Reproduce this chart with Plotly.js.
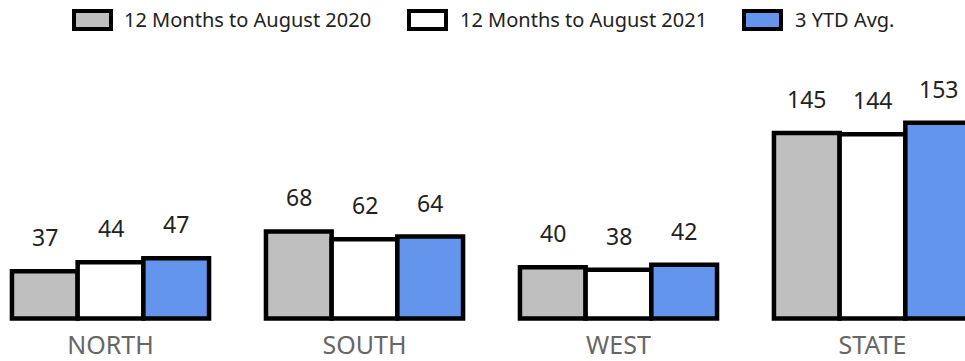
<!DOCTYPE html>
<html>
<head>
<meta charset="utf-8">
<script src="https://cdn.plot.ly/plotly-3.0.1.min.js"></script>
<style>html,body{margin:0;padding:0;background:#fff;}#chart{width:965px;height:361px;}</style>
</head>
<body>
<div id="chart"></div>
<script>
const categories = ["NORTH", "SOUTH", "WEST", "STATE"];
const seriesNames = ["12 Months to August 2020", "12 Months to August 2021", "3 YTD Avg."];
const values2020 = [37, 68, 40, 145];
const values2021 = [44, 62, 38, 144];
const valuesAvg = [47, 64, 42, 153];
const seriesColors = ["#BFBFBF", "#FFFFFF", "#6495ED"];

const W = 965, H = 361;
const mL = 0, mR = 0, mT = 60, mB = 39;
const plotBottom = H - mB;
const plotH = H - mT - mB;
const zeroPx = 318.5, pxPerUnit = 1.28;
const bargap = 0.224;
const catPx = 254;
const firstCenterPx = 110.5;
const barPx = catPx * (1 - bargap) / 3;

const allSeries = [values2020, values2021, valuesAvg];
const font = "Noto Sans, Open Sans, sans-serif";

const traces = allSeries.map((vals, i) => ({
  type: "bar",
  name: seriesNames[i],
  x: categories,
  y: vals,
  marker: {color: seriesColors[i], line: {color: "#000", width: 4.5}},
  hoverinfo: "skip",
  showlegend: false
}));

const annotations = [];
allSeries.forEach((vals, i) => {
  vals.forEach((v, j) => {
    annotations.push({
      x: categories[j], y: v, xref: "x", yref: "y",
      text: String(v), showarrow: false,
      xanchor: "center", yanchor: "bottom",
      xshift: (i - 1) * barPx, yshift: 16,
      font: {family: font, size: 23, color: "#222"}
    });
  });
});

// custom legend
const shapes = [];
const legendBoxLeft = [74, 409, 744];
const legendTextLeft = [122, 458, 793];
const py = p => (plotBottom - p) / plotH;
const px = p => p / W;
seriesNames.forEach((name, i) => {
  shapes.push({
    type: "rect", xref: "paper", yref: "paper",
    x0: px(legendBoxLeft[i]), x1: px(legendBoxLeft[i] + 37),
    y0: py(29), y1: py(11),
    fillcolor: seriesColors[i], line: {color: "#000", width: 4}
  });
  annotations.push({
    xref: "paper", yref: "paper",
    x: px(legendTextLeft[i]), y: py(20),
    xanchor: "left", yanchor: "middle",
    text: name, showarrow: false,
    font: {family: font, size: 20, color: "#222"}
  });
});

const layout = {
  width: W, height: H,
  margin: {l: mL, r: mR, t: mT, b: mB, pad: 0},
  paper_bgcolor: "#fff", plot_bgcolor: "#fff",
  barmode: "group", bargap: bargap, bargroupgap: 0,
  showlegend: false,
  xaxis: {
    type: "category",
    range: [(0 - firstCenterPx) / catPx, (W - firstCenterPx) / catPx],
    showgrid: false, zeroline: false, showline: false, ticks: "",
    tickfont: {family: font, size: 25, color: "#666"},
    ticklabelstandoff: 6
  },
  yaxis: {
    range: [-(plotBottom - zeroPx) / pxPerUnit, (zeroPx - mT) / pxPerUnit],
    visible: false, showgrid: false, zeroline: false
  },
  shapes: shapes,
  annotations: annotations
};

Plotly.newPlot("chart", traces, layout, {staticPlot: true, displayModeBar: false});
</script>
</body>
</html>
